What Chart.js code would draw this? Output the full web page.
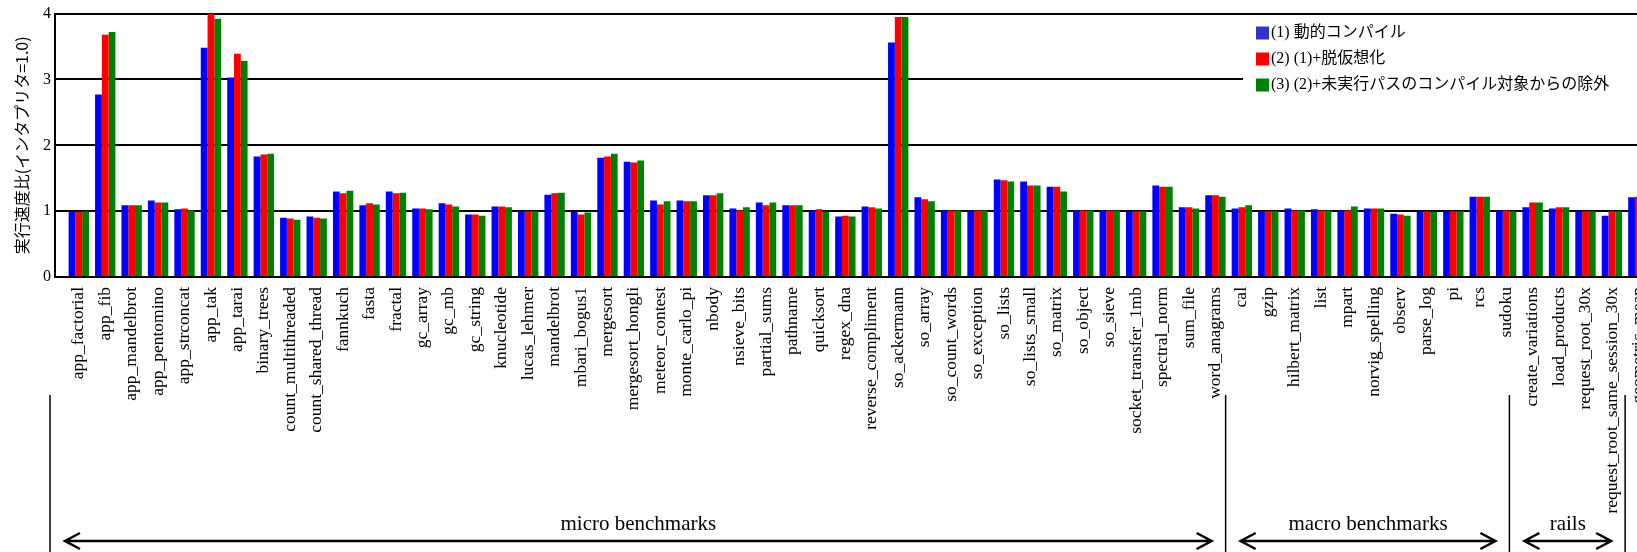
<!DOCTYPE html>
<html lang="ja">
<head>
<meta charset="utf-8">
<title>実行速度比</title>
<script src="https://cdn.jsdelivr.net/npm/chart.js@4/dist/chart.umd.min.js"></script>
<style>
  html, body { margin: 0; padding: 0; background: #fff; overflow: hidden; }
  /* the plot runs past the right edge of the window, like the original cut-off figure */
  #wrap { position: relative; width: 1678px; height: 552px; }
</style>
</head>
<body>
<div id="wrap"><canvas id="speedupChart"></canvas></div>
<script>
// benchmark names, left to right
const benchmarks = [
    'app_factorial', 'app_fib', 'app_mandelbrot', 'app_pentomino', 'app_strconcat',
    'app_tak', 'app_tarai', 'binary_trees', 'count_multithreaded', 'count_shared_thread',
    'fannkuch', 'fasta', 'fractal', 'gc_array', 'gc_mb', 'gc_string', 'knucleotide',
    'lucas_lehmer', 'mandelbrot', 'mbari_bogus1', 'mergesort', 'mergesort_hongli',
    'meteor_contest', 'monte_carlo_pi', 'nbody', 'nsieve_bits', 'partial_sums',
    'pathname', 'quicksort', 'regex_dna', 'reverse_compliment', 'so_ackermann',
    'so_array', 'so_count_words', 'so_exception', 'so_lists', 'so_lists_small',
    'so_matrix', 'so_object', 'so_sieve', 'socket_transfer_1mb', 'spectral_norm',
    'sum_file', 'word_anagrams',
    'cal', 'gzip', 'hilbert_matrix', 'list', 'mpart', 'norvig_spelling', 'observ',
    'parse_log', 'pi', 'rcs', 'sudoku',
    'create_variations', 'load_products', 'request_root_30x', 'request_root_same_session_30x',
    'geometric_mean'
];

// (1) 動的コンパイル
const dynamicCompile = [
    1.00, 2.77, 1.09, 1.16, 1.03, 3.48, 3.03, 1.83, 0.90, 0.92,
    1.30, 1.09, 1.30, 1.04, 1.12, 0.95, 1.07, 1.00, 1.25, 0.99,
    1.81, 1.75, 1.16, 1.16, 1.24, 1.04, 1.13, 1.09, 1.01, 0.92,
    1.07, 3.56, 1.21, 1.01, 1.01, 1.48, 1.45, 1.37, 1.01, 1.01,
    1.00, 1.39, 1.06, 1.24,
    1.04, 1.00, 1.04, 1.03, 1.01, 1.04, 0.96, 1.00, 1.00, 1.22, 1.01,
    1.06, 1.04, 1.00, 0.93,
    1.21
];

// (2) (1)+脱仮想化
const devirtualized = [
    0.99, 3.68, 1.09, 1.13, 1.04, 4.00, 3.39, 1.86, 0.89, 0.90,
    1.27, 1.12, 1.27, 1.04, 1.10, 0.95, 1.07, 1.00, 1.27, 0.95,
    1.83, 1.74, 1.10, 1.15, 1.24, 1.01, 1.09, 1.09, 1.03, 0.93,
    1.06, 3.95, 1.18, 1.01, 1.01, 1.47, 1.39, 1.37, 1.01, 1.01,
    1.00, 1.37, 1.06, 1.24,
    1.06, 1.00, 1.01, 1.01, 1.01, 1.04, 0.95, 1.00, 1.00, 1.22, 1.01,
    1.13, 1.06, 1.00, 1.00,
    1.22
];

// (3) (2)+未実行パスのコンパイル対象からの除外
const pathsExcluded = [
    1.00, 3.72, 1.09, 1.13, 1.01, 3.92, 3.28, 1.87, 0.87, 0.89,
    1.31, 1.10, 1.28, 1.03, 1.07, 0.93, 1.06, 1.00, 1.28, 0.98,
    1.87, 1.77, 1.15, 1.15, 1.27, 1.06, 1.13, 1.09, 0.99, 0.92,
    1.04, 3.95, 1.15, 1.01, 1.01, 1.45, 1.39, 1.30, 1.01, 1.01,
    1.00, 1.37, 1.04, 1.22,
    1.09, 1.00, 1.01, 1.01, 1.07, 1.04, 0.93, 0.99, 1.00, 1.22, 1.00,
    1.13, 1.06, 1.00, 1.00,
    1.22
];

const seriesNames = [
    '(1) 動的コンパイル',
    '(2) (1)+脱仮想化',
    '(3) (2)+未実行パスのコンパイル対象からの除外'
];
const yTicks = [0, 1, 2, 3, 4];

// benchmark groups shown under the labels (index of first / last benchmark)
const groupNames = ['micro benchmarks', 'macro benchmarks', 'rails'];
const groupFirst = [0, 44, 55];
const groupLast = [43, 54, 58];

const serif = '"Liberation Serif", "Noto Sans CJK JP", serif';

// legend in a white box over the top right of the plot
const legendBox = {
    id: 'legendBox',
    afterDraw(chart) {
        const ctx = chart.ctx;
        const swatches = ['#3333cc', '#ff0000', '#008000'];
        ctx.save();
        ctx.fillStyle = '#ffffff';
        ctx.fillRect(1243, 16, 440, 126);
        ctx.font = '16px ' + serif;
        ctx.textBaseline = 'middle';
        ctx.textAlign = 'left';
        chart.data.datasets.forEach((ds, i) => {
            const y = 33 + i * 26;
            ctx.fillStyle = swatches[i];
            ctx.fillRect(1256, y - 6.5, 13, 13);
            ctx.fillStyle = '#000000';
            ctx.fillText(ds.label, 1271, y);
        });
        ctx.restore();
    }
};

// separators, double arrows and names of the benchmark groups
const benchmarkGroups = {
    id: 'benchmarkGroups',
    afterDraw(chart) {
        const ctx = chart.ctx;
        const xs = chart.scales.x;
        const lineTop = 395;
        const arrowY = 541;
        const bottom = chart.height;
        // the original separators sit a little left of some gaps between bar groups
        const nudge = [-3, -10, 0];

        const edges = [chart.chartArea.left - 5];
        groupLast.forEach((last, i) => edges.push(xs.getPixelForValue(last + 0.5) + nudge[i]));

        ctx.save();
        ctx.strokeStyle = '#000000';
        ctx.lineWidth = 1.5;
        edges.forEach(e => {
            ctx.beginPath();
            ctx.moveTo(e, lineTop);
            ctx.lineTo(e, bottom);
            ctx.stroke();
        });

        ctx.lineWidth = 2.5;
        ctx.font = '21px ' + serif;
        ctx.fillStyle = '#000000';
        ctx.textAlign = 'center';
        ctx.textBaseline = 'alphabetic';
        groupNames.forEach((name, i) => {
            const x0 = edges[i] + 15;
            const x1 = edges[i + 1] - 14;
            ctx.beginPath();
            ctx.moveTo(x0, arrowY);
            ctx.lineTo(x1, arrowY);
            ctx.moveTo(x0 + 15, arrowY - 8);
            ctx.lineTo(x0, arrowY);
            ctx.lineTo(x0 + 15, arrowY + 8);
            ctx.moveTo(x1 - 15, arrowY - 8);
            ctx.lineTo(x1, arrowY);
            ctx.lineTo(x1 - 15, arrowY + 8);
            ctx.stroke();
            ctx.fillText(name, (x0 + x1) / 2, 530);
        });
        ctx.restore();
    }
};

function toPoints(values) {
    return values.map((v, i) => ({ x: i, y: v }));
}

const ctx = document.getElementById('speedupChart').getContext('2d');
new Chart(ctx, {
    type: 'bar',
    data: {
        datasets: [
            { label: seriesNames[0], data: toPoints(dynamicCompile), backgroundColor: '#0000ff' },
            { label: seriesNames[1], data: toPoints(devirtualized), backgroundColor: '#ff0000' },
            { label: seriesNames[2], data: toPoints(pathsExcluded), backgroundColor: '#008000' }
        ]
    },
    options: {
        responsive: true,
        maintainAspectRatio: false,
        animation: false,
        layout: { padding: { top: 13, left: 0, right: 0, bottom: 0 } },
        datasets: {
            bar: { categoryPercentage: 0.77, barPercentage: 1.0, borderWidth: 0 }
        },
        plugins: {
            legend: { display: false },
            tooltip: { enabled: false }
        },
        scales: {
            x: {
                type: 'linear',
                bounds: 'data',
                min: -0.9,
                max: 60.5,
                offset: false,
                afterBuildTicks: scale => {
                    scale.ticks = benchmarks.map((b, i) => ({ value: i }));
                },
                afterFit: scale => { scale.height = 275; },
                grid: { display: false, drawTicks: false },
                border: { display: true, color: '#000000', width: 2 },
                ticks: {
                    autoSkip: false,
                    minRotation: 90,
                    maxRotation: 90,
                    padding: 10,
                    color: '#000000',
                    font: { family: serif, size: 17.5 },
                    callback: value => benchmarks[value] ?? ''
                }
            },
            y: {
                min: 0,
                max: 4,
                afterBuildTicks: scale => {
                    scale.ticks = yTicks.map(v => ({ value: v }));
                },
                afterFit: scale => { scale.width = 55; },
                grid: { color: '#000000', lineWidth: 2, drawTicks: false },
                border: { display: true, color: '#000000', width: 2 },
                ticks: {
                    padding: 4,
                    color: '#000000',
                    font: { family: serif, size: 16 }
                },
                title: {
                    display: true,
                    text: '実行速度比(インタプリタ=1.0)',
                    color: '#000000',
                    padding: { top: 12, bottom: 0 },
                    font: { family: '"Noto Sans CJK JP", sans-serif', size: 16 }
                }
            }
        }
    },
    plugins: [legendBox, benchmarkGroups]
});
</script>
</body>
</html>
